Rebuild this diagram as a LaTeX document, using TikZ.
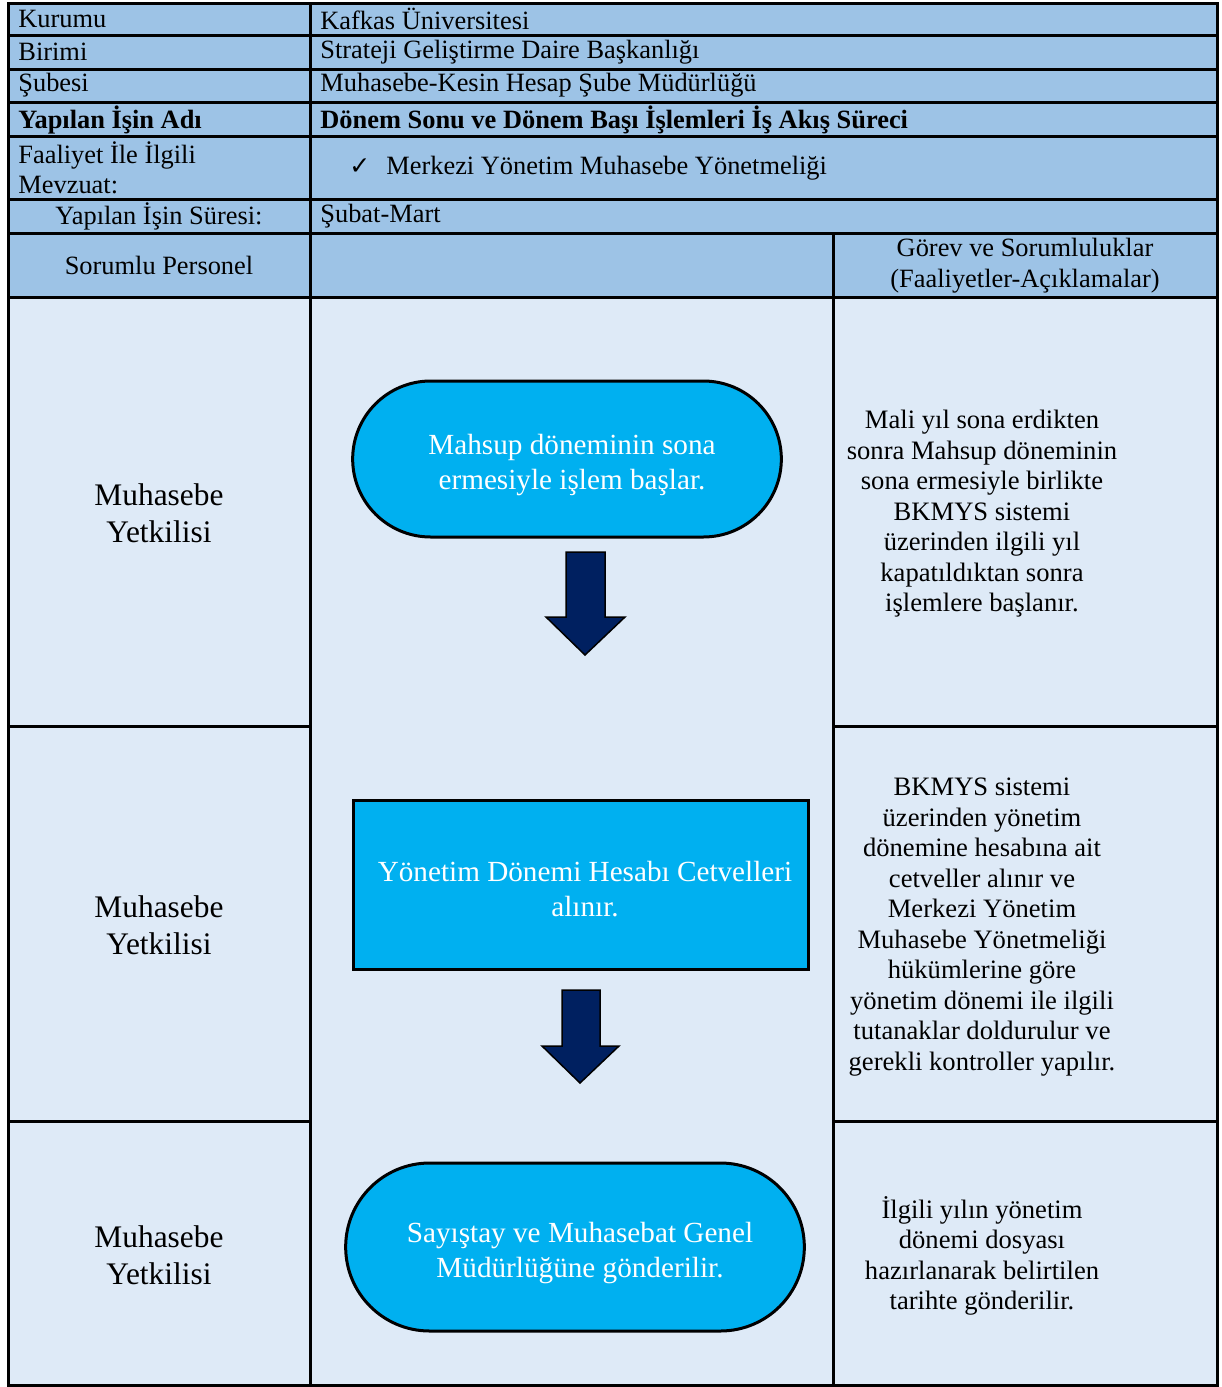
\documentclass[tikz,border=0pt]{standalone}
\usepackage{fontspec}
\setmainfont{Liberation Serif}
\newfontfamily\symfont{DejaVu Sans}
\usetikzlibrary{shapes.misc}
\definecolor{hdr}{HTML}{9DC3E6}
\definecolor{bodyc}{HTML}{DEEAF7}
\definecolor{shp}{HTML}{00B0F0}
\definecolor{arr}{HTML}{002060}
\begin{document}
\begin{tikzpicture}[x=0.5pt,y=-0.5pt,
  grid/.style={line width=1.5pt,black},
  hl/.style={anchor=west,inner sep=0pt,font=\fontsize{13.2}{15}\selectfont,align=left},
  hc/.style={inner sep=0pt,font=\fontsize{13.2}{15.5}\selectfont,align=center},
  who/.style={inner sep=0pt,font=\fontsize{15.7}{18.5}\selectfont,align=center},
  desc/.style={inner sep=0pt,font=\fontsize{13.3}{15.25}\selectfont,align=center},
  shtext/.style={text=white,font=\fontsize{14.6}{17.5}\selectfont,align=center,inner sep=0pt},
  term/.style={rounded rectangle,draw=black,line width=1.5pt,fill=shp},
  procbox/.style={rectangle,draw=black,line width=1.5pt,fill=shp},
  blockarrow/.style={fill=arr,draw=black,line width=0.75pt}]
\useasboundingbox (0,0) rectangle (1221,1387);
\fill[white] (0,0) rectangle (1221,1387);
\fill[hdr] (8,3) rectangle (1217,297);
\fill[bodyc] (8,297) rectangle (1217,1385);
% grid
\foreach \y in {35,69,102,136,199,233,297} \draw[grid] (8,\y) -- (1217,\y);
\draw[grid] (310,3) -- (310,1385);
\draw[grid] (833,233) -- (833,1385);
\draw[grid] (8,726) -- (310,726);
\draw[grid] (833,726) -- (1217,726);
\draw[grid] (8,1121) -- (310,1121);
\draw[grid] (833,1121) -- (1217,1121);
\draw[grid] (8,3) rectangle (1217,1385);
% header texts
\node[hl] (l1) at (18,19) {Kurumu};
\node[hl] (r1) at (320,19) {Kafkas Üniversitesi};
\node[hl] (l2) at (18,52) {Birimi};
\node[hl] (r2) at (320,52) {Strateji Geliştirme Daire Başkanlığı};
\node[hl] (l3) at (18,85.5) {Şubesi};
\node[hl] (r3) at (320,85.5) {Muhasebe-Kesin Hesap Şube Müdürlüğü};
\node[hl,font=\fontsize{13.2}{15}\selectfont\bfseries] (l4) at (18,119.5) {Yapılan İşin Adı};
\node[hl,font=\fontsize{13.2}{15}\selectfont\bfseries] (r4) at (320,119.5) {Dönem Sonu ve Dönem Başı İşlemleri İş Akış Süreci};
\node[hl] (l5) at (18,167.5) {Faaliyet İle İlgili\\Mevzuat:};
\node[hl] (r5) at (349,168) {{\symfont\fontsize{12.5}{13}\selectfont ✓}\hspace{8pt}Merkezi Yönetim Muhasebe Yönetmeliği};
\node[hc] (l6) at (159,216) {Yapılan İşin Süresi:};
\node[hl] (r6) at (320,216) {Şubat-Mart};
\node[hc] (l7) at (159,265) {Sorumlu Personel};
\node[hc] (r7) at (1025,266) {Görev ve Sorumluluklar\\(Faaliyetler-Açıklamalar)};
% responsible
\node[who] (p1) at (159,513) {Muhasebe\\Yetkilisi};
\node[who] (p2) at (159,925) {Muhasebe\\Yetkilisi};
\node[who] (p3) at (159,1255) {Muhasebe\\Yetkilisi};
% descriptions
\node[desc] (d1) at (982,514) {Mali yıl sona erdikten\\sonra Mahsup döneminin\\sona ermesiyle birlikte\\BKMYS sistemi\\üzerinden ilgili yıl\\kapatıldıktan sonra\\işlemlere başlanır.};
\node[desc] (d2) at (982,927) {BKMYS sistemi\\üzerinden yönetim\\dönemine hesabına ait\\cetveller alınır ve\\Merkezi Yönetim\\Muhasebe Yönetmeliği\\hükümlerine göre\\yönetim dönemi ile ilgili\\tutanaklar doldurulur ve\\gerekli kontroller yapılır.};
\node[desc] (d3) at (982,1256) {İlgili yılın yönetim\\dönemi dosyası\\hazırlanarak belirtilen\\tarihte gönderilir.};
% flow shapes
\node[term,minimum width=221pt,minimum height=78pt] (s1) at (567,459) {};
\node[shtext] (s1t) at (572,465) {Mahsup döneminin sona\\ermesiyle işlem başlar.};
\node[procbox,minimum width=227.5pt,minimum height=84.5pt] (s2) at (580.5,884.5) {};
\node[shtext] (s2t) at (585,889) {Yönetim Dönemi Hesabı Cetvelleri\\alınır.};
\node[term,minimum width=236pt,minimum height=84pt] (s3) at (575,1247) {};
\node[shtext] (s3t) at (580,1253) {Sayıştay ve Muhasebat Genel\\Müdürlüğüne gönderilir.};
% block arrows
\draw[blockarrow] (566,552) -- (605,552) -- (605,617) -- (625,617) -- (585,655) -- (546,617) -- (566,617) -- cycle;
\draw[blockarrow] (562,990) -- (600,990) -- (600,1046) -- (619,1046) -- (580,1083) -- (542,1046) -- (562,1046) -- cycle;
\end{tikzpicture}
\end{document}
